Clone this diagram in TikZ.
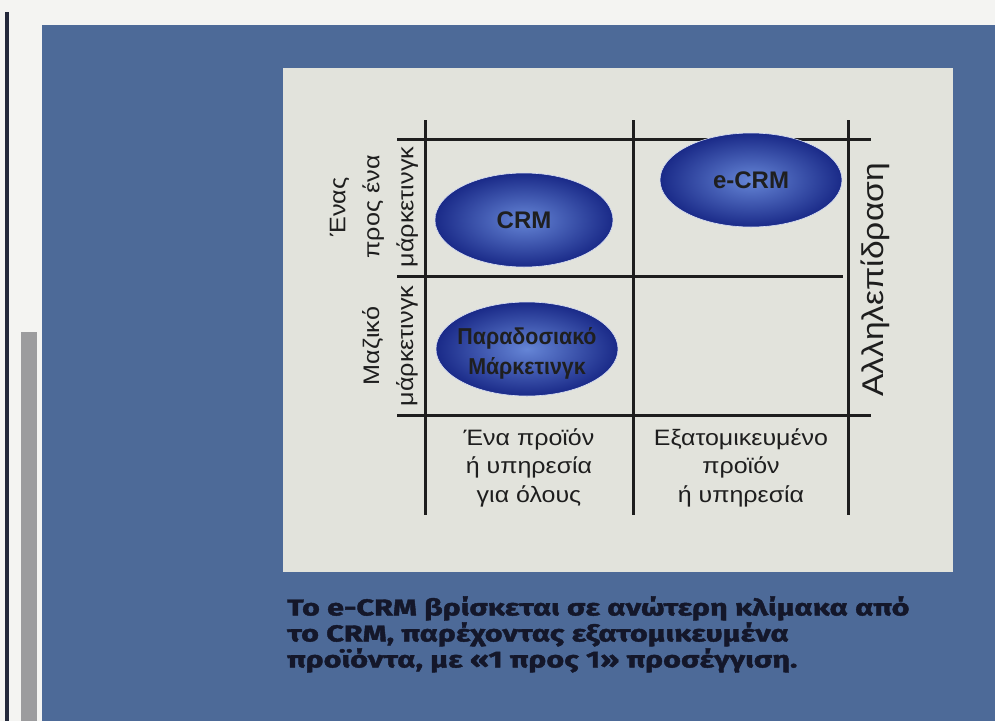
\documentclass[tikz,border=0pt]{standalone}
\usepackage{fontspec}
\setmainfont{Liberation Sans}
\newfontfamily\lblfont{Liberation Sans}[FakeStretch=1.12]
\newfontfamily\elfont{Liberation Sans}
\newfontfamily\elnarrow{Liberation Sans}[FakeStretch=0.93]
\newfontfamily\capfont{Fira Sans}[FakeStretch=1.33, BoldFeatures={FakeBold=1.8}]
\usetikzlibrary{shapes.geometric}
\definecolor{paper}{HTML}{F4F4F2}
\definecolor{bgblue}{HTML}{4D6A98}
\definecolor{panel}{HTML}{E2E3DC}
\definecolor{ink}{HTML}{1E1E1E}
\definecolor{ellout}{HTML}{1A2A88}
\definecolor{ellin}{HTML}{6585D6}
\definecolor{captxt}{HTML}{14172A}
\definecolor{edge}{HTML}{23283A}
\definecolor{bar}{HTML}{9C9C9E}
\tikzset{
  gridline/.style={draw=ink, line width=3pt},
  oval/.style={ellipse, inner sep=0pt, inner color=ellin, outer color=ellout,
    draw=white!75!ellin, line width=0.6pt},
  ovaltext/.style={inner sep=0pt, align=center, text=black!88,
    font=\elfont\bfseries\fontsize{24}{28}\selectfont},
  sidelbl/.style={rotate=90, inner sep=0pt, align=center, text=ink,
    font=\lblfont\fontsize{22.5}{34}\selectfont},
  botlbl/.style={inner sep=0pt, align=center, text=ink, anchor=north,
    font=\lblfont\fontsize{22.3}{28.5}\selectfont},
}
\begin{document}
\begin{tikzpicture}[x=1pt,y=-1pt]
\useasboundingbox (0,0) rectangle (995,721);
\fill[paper] (0,0) rectangle (995,721);
\fill[edge] (5,12) rectangle (9,721);
\fill[bar] (21,332) rectangle (37,721);
\fill[bgblue] (42,25) rectangle (995,721);
\fill[panel] (283,68) rectangle (953,572);
% grid
\draw[gridline] (425,120) -- (425,515);
\draw[gridline] (633,120) -- (633,515);
\draw[gridline] (848,120) -- (848,515);
\draw[gridline] (397,139) -- (871,139);
\draw[gridline] (397,276) -- (843,276);
\draw[gridline] (397,415) -- (871,415);
% ovals
\node[oval, minimum width=178pt, minimum height=94pt] (crm) at (524,220) {};
\node[ovaltext] (crmtxt) at (crm) {CRM};
\node[oval, minimum width=182pt, minimum height=94pt] (ecrm) at (751,180) {};
\node[ovaltext] (ecrmtxt) at (ecrm) {e-CRM};
\node[oval, minimum width=182pt, minimum height=94pt] (trad) at (527,349) {};
\node[ovaltext, font=\elnarrow\bfseries\fontsize{23}{30}\selectfont] (tradtxt) at ([yshift=-4pt]trad.center) {Παραδοσιακό\\Μάρκετινγκ};
% side labels
\node[sidelbl] (lblA) at (374,207) {Ένας\\προς ένα\\μάρκετινγκ};
\node[sidelbl] (lblB) at (390,346) {Μαζικό\\μάρκετινγκ};
\node[sidelbl, font=\lblfont\fontsize{30}{30}\selectfont] (lblR) at (875,280) {Αλληλεπίδραση};
% bottom labels
\node[botlbl] (lblC1) at (529,428) {Ένα προϊόν\\ή υπηρεσία\\για όλους};
\node[botlbl] (lblC2) at (741,428) {Εξατομικευμένο\\προϊόν\\ή υπηρεσία};
% caption
\node[anchor=north west, inner sep=0pt, align=left, text=captxt,
  font=\capfont\bfseries\fontsize{23}{26}\selectfont] (caption) at (287,596)
  {Το e-CRM βρίσκεται σε ανώτερη κλίμακα από\\το CRM, παρέχοντας εξατομικευμένα\\προϊόντα, με «1 προς 1» προσέγγιση.};
\end{tikzpicture}
\end{document}
